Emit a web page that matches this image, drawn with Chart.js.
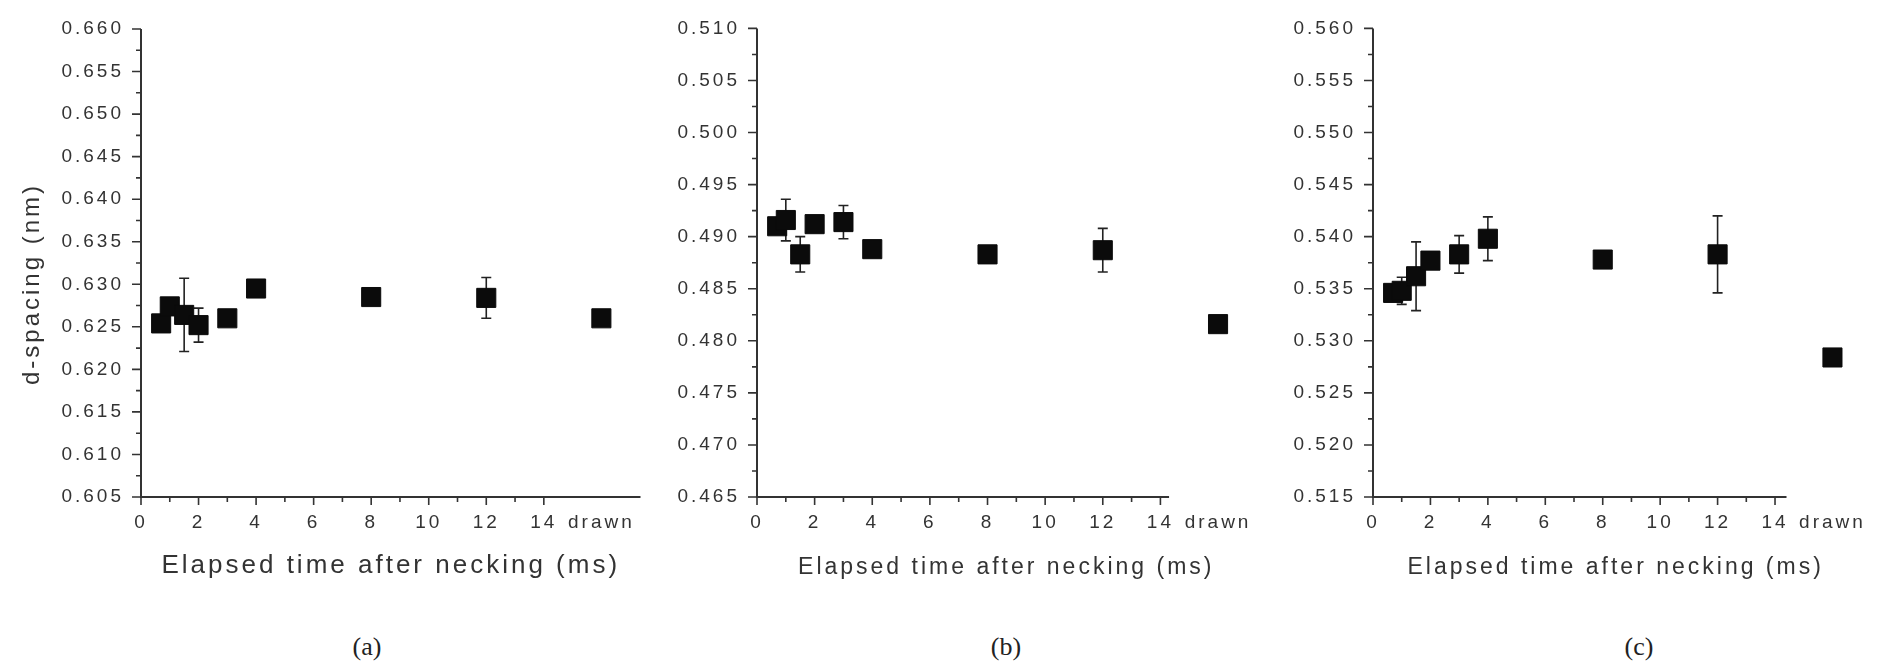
<!DOCTYPE html>
<html>
<head>
<meta charset="utf-8">
<script src="https://cdn.jsdelivr.net/npm/chart.js@4.4.1/dist/chart.umd.min.js"></script>
<style>
  body { margin: 0; background: #fff; width: 1881px; height: 668px; position: relative; overflow: hidden; }
  canvas { position: absolute; top: 0; }
  .tag { position: absolute; top: 632px; line-height: 30px; font: 26px "Liberation Serif", "Times New Roman", serif; color: #222; transform: translateX(-50%); }
</style>
</head>
<body>
<canvas id="chartA" width="655" height="600" style="left:0"></canvas>
<canvas id="chartB" width="615" height="600" style="left:655px"></canvas>
<canvas id="chartC" width="611" height="600" style="left:1270px"></canvas>
<div class="tag" style="left:367px">(a)</div>
<div class="tag" style="left:1006px">(b)</div>
<div class="tag" style="left:1639px">(c)</div>

<script>
// elapsed time after necking (ms); the last slot (16) is the "drawn" sample
const times = [0.7, 1, 1.5, 2, 3, 4, 8, 12, 16];
const DRAWN_X = 16;
const xTickValues = [0, 2, 4, 6, 8, 10, 12, 14];

// d-spacing (nm) and error bar half-widths
const dA = [0.6254, 0.6274, 0.6264, 0.6252, 0.6260, 0.6295, 0.6285, 0.6284, 0.6260];
const errA = [0, 0, 0.0043, 0.0020, 0, 0, 0, 0.0024, 0];
const dB = [0.4910, 0.4916, 0.4883, 0.4912, 0.4914, 0.4888, 0.4883, 0.4887, 0.4816];
const errB = [0, 0.0020, 0.0017, 0, 0.0016, 0, 0.0006, 0.0021, 0];
const dC = [0.5346, 0.5348, 0.5362, 0.5377, 0.5383, 0.5398, 0.5378, 0.5383, 0.5284];
const errC = [0, 0.0013, 0.0033, 0, 0.0018, 0.0021, 0, 0.0037, 0];

const yRangeA = [0.605, 0.660];
const yRangeB = [0.465, 0.510];
const yRangeC = [0.515, 0.560];

const X_TITLE = 'Elapsed time after necking (ms)';
const Y_TITLE = 'd-spacing (nm)';
const Y_STEP = 0.0025;
const TEXT = '#333';

Chart.defaults.font.family = '"Liberation Sans", Arial, sans-serif';
Chart.defaults.color = TEXT;

// Origin-style axes: frame lines, major/minor ticks, error bars, wide letter spacing
const originAxes = {
  id: 'originAxes',
  beforeUpdate(chart) { chart.ctx.letterSpacing = '3px'; },
  beforeDraw(chart) { chart.ctx.letterSpacing = '3px'; },
  beforeDatasetsDraw(chart, args, opts) {
    const ctx = chart.ctx;
    const ys = chart.scales.y;
    const meta = chart.getDatasetMeta(0);
    const pts = chart.data.datasets[0].data;
    ctx.save();
    ctx.strokeStyle = '#222';
    ctx.lineWidth = 1.6;
    opts.err.forEach((e, i) => {
      if (!e) return;
      const x = meta.data[i].x;
      const t = ys.getPixelForValue(pts[i].y + e);
      const b = ys.getPixelForValue(pts[i].y - e);
      ctx.beginPath();
      ctx.moveTo(x, t); ctx.lineTo(x, b);
      ctx.moveTo(x - 5, t); ctx.lineTo(x + 5, t);
      ctx.moveTo(x - 5, b); ctx.lineTo(x + 5, b);
      ctx.stroke();
    });
    ctx.restore();
  },
  afterDraw(chart, args, opts) {
    const ctx = chart.ctx;
    const { left, top, bottom } = chart.chartArea;
    const xs = chart.scales.x, ys = chart.scales.y;
    ctx.save();
    ctx.strokeStyle = '#333';
    ctx.lineWidth = 2;
    ctx.beginPath();
    ctx.moveTo(left, top);
    ctx.lineTo(left, bottom);
    ctx.lineTo(xs.getPixelForValue(opts.axisEnd), bottom);
    ctx.stroke();
    ctx.lineWidth = 1.6;
    ctx.beginPath();
    for (let v = 0; v <= 14; v++) {
      const px = xs.getPixelForValue(v);
      ctx.moveTo(px, bottom);
      ctx.lineTo(px, bottom + (v % 2 ? 5 : 8));
    }
    const n = Math.round((opts.yRange[1] - opts.yRange[0]) / Y_STEP);
    for (let k = 0; k <= n; k++) {
      const py = ys.getPixelForValue(opts.yRange[0] + k * Y_STEP);
      ctx.moveTo(left, py);
      ctx.lineTo(left - (k % 2 ? 5 : 9), py);
    }
    ctx.stroke();
    // rotated y title (sits a bit below the plot's middle, as in the figure)
    if (opts.yTitleAt) {
      ctx.translate(opts.yTitleAt.x, opts.yTitleAt.y);
      ctx.rotate(-Math.PI / 2);
      ctx.font = '24px "Liberation Sans", Arial, sans-serif';
      ctx.fillStyle = TEXT;
      ctx.textAlign = 'center';
      ctx.textBaseline = 'middle';
      ctx.fillText(Y_TITLE, 0, 0);
    }
    ctx.restore();
  }
};

function makeChart(id, values, err, yRange, p) {
  const ctx = document.getElementById(id).getContext('2d');
  return new Chart(ctx, {
    type: 'scatter',
    data: {
      datasets: [{
        data: times.map((t, i) => ({ x: t, y: values[i] })),
        pointStyle: 'rect',
        pointRadius: 13.5,
        pointHoverRadius: 13.5,
        backgroundColor: '#0b0b0b',
        borderColor: '#0b0b0b',
        borderWidth: 1
      }]
    },
    options: {
      responsive: false,
      animation: false,
      events: [],
      layout: { padding: { top: p.top, right: p.right, bottom: 13, left: 0 } },
      plugins: {
        legend: { display: false },
        tooltip: { enabled: false },
        originAxes: { err: err, yRange: yRange, axisEnd: p.axisEnd, yTitleAt: p.yTitleAt }
      },
      scales: {
        x: {
          type: 'linear',
          min: 0,
          max: p.xMax,
          grid: { display: false, drawTicks: false },
          border: { display: false },
          ticks: {
            stepSize: 1,
            includeBounds: false,
            autoSkip: false,
            maxRotation: 0,
            padding: 14,
            font: { size: 19 },
            callback: v => v === DRAWN_X ? 'drawn' : (xTickValues.includes(v) ? String(v) : '')
          },
          title: {
            display: true,
            text: X_TITLE,
            font: { size: p.titleSize },
            color: TEXT,
            padding: { top: 0, bottom: 6 }
          },
          afterFit: s => { s.height = 90; }
        },
        y: {
          min: yRange[0],
          max: yRange[1],
          grid: { display: false, drawTicks: false },
          border: { display: false },
          ticks: {
            stepSize: Y_STEP,
            autoSkip: false,
            padding: 17,
            font: { size: 19 },
            callback: v => Math.round((v - yRange[0]) / Y_STEP) % 2 ? '' : v.toFixed(3)
          },
          afterFit: s => { s.width = p.yWidth; }
        }
      }
    },
    plugins: [originAxes]
  });
}

makeChart('chartA', dA, errA, yRangeA,
  { top: 29, right: 3, yWidth: 141, xMax: 17.36, axisEnd: 17.36, titleSize: 26, yTitleAt: { x: 32, y: 284 } });
makeChart('chartB', dB, errB, yRangeB,
  { top: 25, right: 7, yWidth: 102, xMax: 17.3, axisEnd: 14.3, titleSize: 23 });
makeChart('chartC', dC, errC, yRangeC,
  { top: 25, right: 22, yWidth: 103, xMax: 16.9, axisEnd: 14.4, titleSize: 23 });
</script>
</body>
</html>
